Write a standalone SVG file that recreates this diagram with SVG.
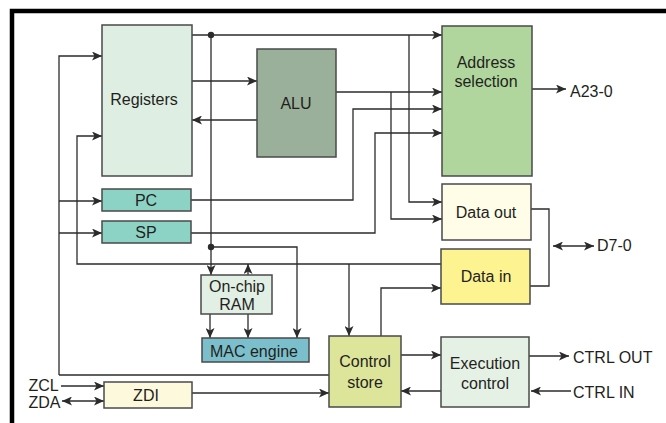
<svg xmlns="http://www.w3.org/2000/svg" width="666" height="423" viewBox="0 0 666 423">
<style>
.box{stroke:#4a4a4a;stroke-width:1.5}
.c path{fill:none;stroke:#2b2b2b;stroke-width:1.3}
.a{marker-end:url(#ah)}
.d{marker-end:url(#ah);marker-start:url(#ahs)}
text{font-family:"Liberation Sans",Arial,sans-serif;font-size:16px;fill:#231f20;text-anchor:middle}
.l{text-anchor:start}
</style>
<defs>
<marker id="ah" markerUnits="userSpaceOnUse" markerWidth="11" markerHeight="9" refX="10" refY="4.5" orient="auto"><path d="M0,0 L10,4.5 L0,9 L2.5,4.5 z" fill="#2b2b2b"/></marker>
<marker id="ahs" markerUnits="userSpaceOnUse" markerWidth="11" markerHeight="9" refX="10" refY="4.5" orient="auto-start-reverse"><path d="M0,0 L10,4.5 L0,9 L2.5,4.5 z" fill="#2b2b2b"/></marker>
</defs>
<rect width="666" height="423" fill="#ffffff"/>
<g id="frame"><path d="M12,423 V11 H666" fill="none" stroke="#000" stroke-width="4.5"/></g>
<g class="c" id="connectors">
<path class="a" d="M192,35 H442"/>
<path class="a" d="M211,35 V275"/>
<path class="a" d="M211,247 H297 V338"/>
<path class="a" d="M409,35 V202 H442"/>
<path class="a" d="M192,81 H257"/>
<path class="a" d="M257,120 H192"/>
<path class="a" d="M336,92 H442"/>
<path class="a" d="M391,92 V219 H442"/>
<path class="a" d="M191,200 H353 V109 H442"/>
<path class="a" d="M191,233 H375 V133 H442"/>
<path class="a" d="M441,264 H77 V136 H102"/>
<path class="a" d="M349,264 V336"/>
<path class="a" d="M248,275 V264"/>
<path d="M59,375 H329"/>
<path class="a" d="M59,375 V56 H102"/>
<path class="a" d="M59,201 H102"/>
<path class="a" d="M59,233 H102"/>
<path class="a" d="M192,393 H329"/>
<path class="a" d="M61,386 H104"/>
<path class="d" d="M62,401 H104"/>
<path class="a" d="M381,336 V288 H441"/>
<path class="a" d="M401,355 H441"/>
<path class="a" d="M441,391 H401"/>
<path class="a" d="M529,356 H569"/>
<path class="a" d="M571,391 H531"/>
<path class="a" d="M532,89 H566"/>
<path d="M531,209 H549 V286 H530"/>
<path class="d" d="M553,246 H594"/>
<path class="a" d="M210,314 V338"/>
<path class="a" d="M248,314 V338"/>
<circle cx="211" cy="35" r="3.2" fill="#2b2b2b"/>
<circle cx="211" cy="247" r="3.2" fill="#2b2b2b"/>
</g>
<g id="registers"><rect class="box" x="102" y="25" width="90" height="151" fill="#deeee3"/><text x="144" y="104.5">Registers</text></g>
<g id="alu"><rect class="box" x="257" y="49" width="79" height="108" fill="#9bb09b"/><text x="296" y="108.5">ALU</text></g>
<g id="address"><rect class="box" x="442" y="26" width="90" height="150" fill="#b0d69d"/><text x="486" y="67.5">Address</text><text x="486" y="86.5">selection</text></g>
<g id="a23"><text class="l" x="570" y="97">A23-0</text></g>
<g id="dataout"><rect class="box" x="442" y="184" width="89" height="56" fill="#fffce8"/><text x="486" y="217.5">Data out</text></g>
<g id="d70"><text class="l" x="597" y="250.5">D7-0</text></g>
<g id="datain"><rect class="box" x="441" y="249" width="89" height="55" fill="#fdf390"/><text x="486" y="281.5">Data in</text></g>
<g id="pc"><rect class="box" x="102" y="189" width="89" height="22" fill="#8cd3c6"/><text x="146" y="205.5">PC</text></g>
<g id="sp"><rect class="box" x="102" y="221" width="89" height="22" fill="#8cd3c6"/><text x="146" y="237.5">SP</text></g>
<g id="ram"><rect class="box" x="201" y="275" width="71" height="39" fill="#e2efe4"/><text x="237" y="291.5">On-chip</text><text x="237" y="309.5">RAM</text></g>
<g id="mac"><rect class="box" x="202" y="338" width="107" height="24" fill="#7cbfcc"/><text x="254" y="356.5">MAC engine</text></g>
<g id="control"><rect class="box" x="329" y="336" width="72" height="71" fill="#dde59a"/><text x="365" y="367">Control</text><text x="365" y="387.5">store</text></g>
<g id="exec"><rect class="box" x="441" y="337" width="88" height="70" fill="#e6f1e6"/><text x="485" y="369">Execution</text><text x="485" y="388.5">control</text></g>
<g id="ctrlout"><text class="l" x="573" y="362.5">CTRL OUT</text></g>
<g id="ctrlin"><text class="l" x="573" y="398">CTRL IN</text></g>
<g id="zdi"><rect class="box" x="104" y="382" width="88" height="26" fill="#fdf9dd"/><text x="146" y="400.5">ZDI</text></g>
<g id="zcl"><text class="l" x="28.5" y="391">ZCL</text></g>
<g id="zda"><text class="l" x="28.5" y="407.5">ZDA</text></g>
</svg>
